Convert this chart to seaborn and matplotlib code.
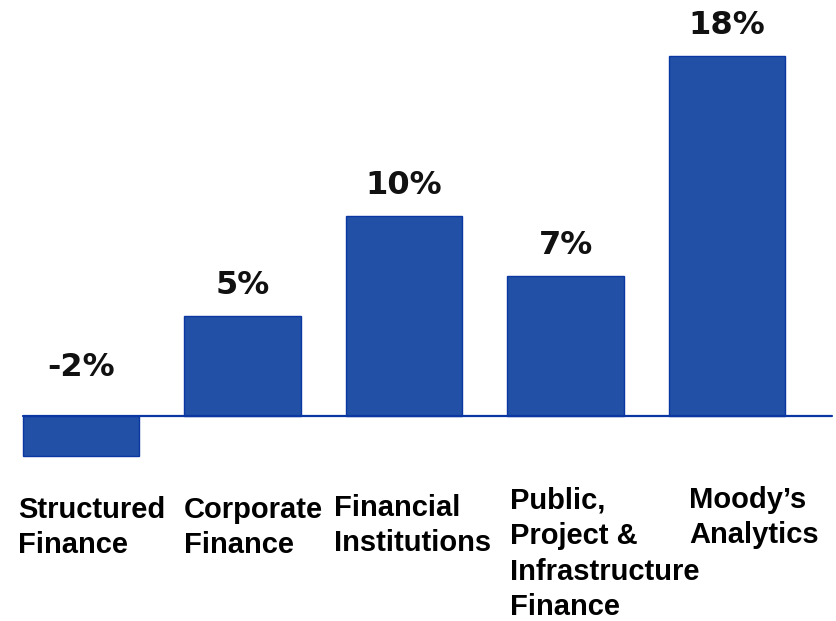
import numpy as np
import pandas as pd
import seaborn as sns
import matplotlib.pyplot as plt

# data
segments = ['Structured\nFinance', 'Corporate\nFinance', 'Financial\nInstitutions',
            'Public,\nProject &\nInfrastructure\nFinance', 'Moody\u2019s\nAnalytics']
growth = [-2, 5, 10, 7, 18]
value_labels = ['-2%', '5%', '10%', '7%', '18%']

# layout (label offsets from bar centre, first-line baseline)
label_dx = [-0.39, -0.362, -0.433, -0.344, -0.235]
label_y = [-5.1, -5.1, -5.0, -4.7, -4.6]
line_step = 1.75

bar_color = '#2150A6'
edge_color = '#0B37A3'

sns.set_style('white')
df = pd.DataFrame({'segment': segments, 'growth': growth})

fig = plt.figure(figsize=(8.37, 6.21), dpi=100)
ax = fig.add_axes([0, 0, 1, 1])
sns.barplot(data=df, x='segment', y='growth', color=bar_color, saturation=1,
            width=0.72, edgecolor=edge_color, linewidth=1, ax=ax)

ax.set_xlim(-0.5015, 4.681)
ax.set_ylim(-10.25, 20.8)
ax.axhline(0, xmin=0.027, xmax=0.994, color=edge_color, linewidth=1.6, zorder=3)

for i, (v, txt) in enumerate(zip(growth, value_labels)):
    y = v + 1.1 if v >= 0 else 2.0
    ax.text(i, y, txt, ha='center', va='baseline', fontsize=23,
            fontweight='bold', family='DejaVu Sans', color='#111111')

for i, name in enumerate(segments):
    n = name.count('\n')
    # matplotlib puts the last line on the baseline
    ax.text(i + label_dx[i], label_y[i] - n * line_step, name, ha='left',
            va='baseline', fontsize=21, fontweight='bold',
            family='Liberation Sans', linespacing=1.34, color='black')

ax.axis('off')
fig.savefig('out.png', dpi=100, facecolor='white')
